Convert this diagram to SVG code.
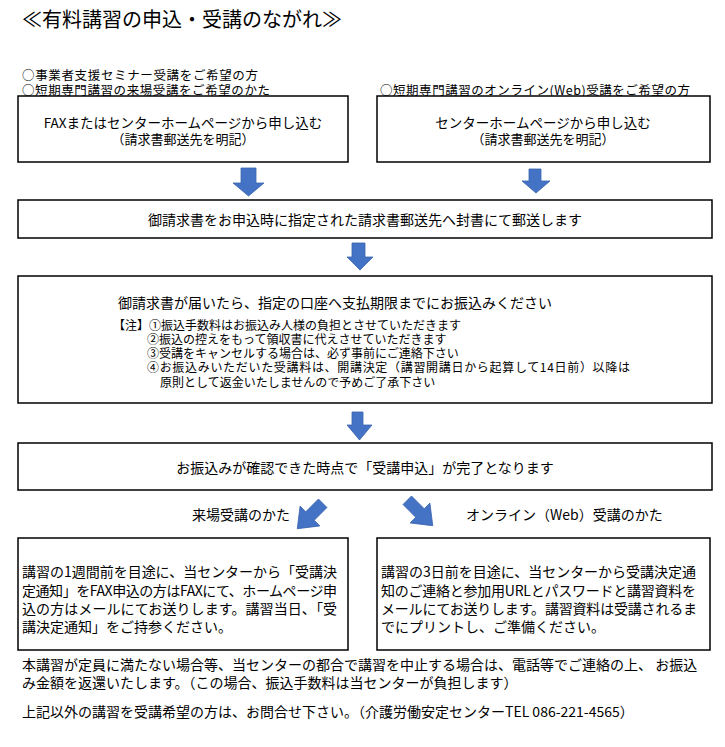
<svg xmlns="http://www.w3.org/2000/svg" width="725" height="747" viewBox="0 0 725 747">
<style>
text{font-family:"Noto Sans CJK JP","Noto Sans",sans-serif;fill:#000;dominant-baseline:central}
.t13{font-size:12.5px}
.t14{font-size:14px}
.t12{font-size:12px}
.c{text-anchor:middle}
.box{fill:#fff;stroke:#000;stroke-width:1.5}
.arr{fill:#4472C4;stroke:#3B64B0;stroke-width:0.8}
</style>
<rect width="725" height="747" fill="#fff"/>
<g id="title"><text x="22" y="18" style="font-size:20px">≪有料講習の申込・受講のながれ≫</text></g>
<g id="headers">
<text class="t13" x="22" y="74" textLength="236" lengthAdjust="spacing">○事業者支援セミナー受講をご希望の方</text>
<text class="t13" x="22" y="89" textLength="248" lengthAdjust="spacing">○短期専門講習の来場受講をご希望のかた</text>
<text class="t13" x="380" y="89" textLength="310" lengthAdjust="spacing">○短期専門講習のオンライン(Web)受講をご希望の方</text>
</g>
<g id="node-fax">
<rect class="box" x="18" y="96" width="330" height="66"/>
<text class="c" x="183" y="122" style="font-size:13.5px">FAXまたはセンターホームページから申し込む</text>
<text class="c" x="183" y="138" style="font-size:13px">（請求書郵送先を明記）</text>
</g>
<g id="node-web">
<rect class="box" x="377" y="96" width="333" height="66"/>
<text class="c" x="543" y="122" style="font-size:13.5px">センターホームページから申し込む</text>
<text class="c" x="543" y="138" style="font-size:13px">（請求書郵送先を明記）</text>
</g>
<g id="node-invoice">
<rect class="box" x="18" y="200" width="694" height="38"/>
<text class="t14 c" x="365" y="219">御請求書をお申込時に指定された請求書郵送先へ封書にて郵送します</text>
</g>
<g id="node-payment">
<rect class="box" x="18" y="276" width="694" height="127"/>
<text class="t14" x="118" y="302">御請求書が届いたら、指定の口座へ支払期限までにお振込みください</text>
<text class="t12" x="113" y="324">【注】①振込手数料はお振込み人様の負担とさせていただきます</text>
<text class="t12" x="147" y="338">②振込の控えをもって領収書に代えさせていただきます</text>
<text class="t12" x="147" y="352">③受講をキャンセルする場合は、必ず事前にご連絡下さい</text>
<text class="t12" x="147" y="366" textLength="483" lengthAdjust="spacing">④お振込みいただいた受講料は、開講決定（講習開講日から起算して14日前）以降は</text>
<text class="t12" x="160" y="381">原則として返金いたしませんので予めご了承下さい</text>
</g>
<g id="node-complete">
<rect class="box" x="18" y="443" width="694" height="47"/>
<text class="t14 c" x="365" y="467">お振込みが確認できた時点で「受講申込」が完了となります</text>
</g>
<g id="labels">
<text class="t14" x="192" y="514">来場受講のかた</text>
<text class="t14" x="466" y="514">オンライン（Web）受講のかた</text>
</g>
<g id="node-venue">
<rect class="box" x="18" y="538" width="330" height="112"/>
<text class="t14" x="22" y="571" textLength="315" lengthAdjust="spacing">講習の1週間前を目途に、当センターから「受講決</text>
<text class="t14" x="22" y="590" textLength="315" lengthAdjust="spacing">定通知」をFAX申込の方はFAXにて、ホームページ申</text>
<text class="t14" x="22" y="608" textLength="315" lengthAdjust="spacing">込の方はメールにてお送りします。講習当日、「受</text>
<text class="t14" x="22" y="626">講決定通知」をご持参ください。</text>
</g>
<g id="node-online">
<rect class="box" x="377" y="538" width="333" height="112"/>
<text class="t14" x="381" y="571" textLength="315" lengthAdjust="spacing">講習の3日前を目途に、当センターから受講決定通</text>
<text class="t14" x="381" y="590" textLength="315" lengthAdjust="spacing">知のご連絡と参加用URLとパスワードと講習資料を</text>
<text class="t14" x="381" y="608" textLength="316" lengthAdjust="spacing">メールにてお送りします。講習資料は受講されるま</text>
<text class="t14" x="381" y="626">でにプリントし、ご準備ください。</text>
</g>
<g id="footer">
<text class="t14" x="22" y="664">本講習が定員に満たない場合等、当センターの都合で講習を中止する場合は、電話等でご連絡の上、 お振込</text>
<text class="t14" x="22" y="682">み金額を返還いたします。（この場合、振込手数料は当センターが負担します）</text>
<text class="t14" x="22" y="711">上記以外の講習を受講希望の方は、お問合せ下さい。（介護労働安定センターTEL 086-221-4565）</text>
</g>
<g id="connectors">
<polygon class="arr" points="241,168 256,168 256,183 264,183 248.5,196 233,183 241,183"/>
<polygon class="arr" points="529,169 541,169 541,181 550,181 536,193 522,181 529,181"/>
<polygon class="arr" points="352,243 365,243 365,257 373,257 360,270 347,257 352,257"/>
<polygon class="arr" points="352,412 363,412 363,425 372,425 359.5,440 347,425 352,425"/>
<polygon class="arr" transform="translate(310,516) rotate(45)" points="-6,-18 6,-18 6,0 14,0 0,18 -14,0 -6,0"/>
<polygon class="arr" transform="translate(420,513) rotate(-45)" points="-6,-18 6,-18 6,0 14,0 0,18 -14,0 -6,0"/>
</g>
</svg>
